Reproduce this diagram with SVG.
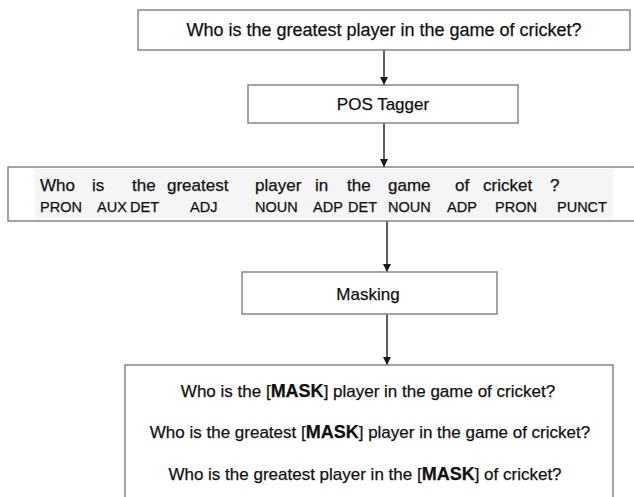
<svg xmlns="http://www.w3.org/2000/svg" width="634" height="497" viewBox="0 0 634 497">
<style>
.box{fill:#ffffff;stroke:#858585;stroke-width:1.5}
.t{font-family:"Liberation Sans",Arial,sans-serif;fill:#111111;stroke:#111111;stroke-width:0.25}
.c{text-anchor:middle}
.w{font-size:17px}
.tag{font-size:14.5px}
.m{font-weight:bold;font-size:18px}
.edge{stroke:#2a2a2a;stroke-width:1.5;fill:none;marker-end:url(#ah)}
</style>
<defs>
<marker id="ah" viewBox="0 0 10 10" refX="10" refY="5" markerWidth="8" markerHeight="8" markerUnits="userSpaceOnUse" orient="auto">
<path d="M0,0 L10,5 L0,10 z" fill="#1a1a1a"/>
</marker>
</defs>
<rect width="634" height="497" fill="#ffffff"/>
<g id="connectors">
<line class="edge" x1="384" y1="50" x2="384" y2="85"/>
<line class="edge" x1="384" y1="123" x2="384" y2="167"/>
<line class="edge" x1="387" y1="221" x2="387" y2="272"/>
<line class="edge" x1="387" y1="314" x2="387" y2="365"/>
</g>
<g id="question">
<rect class="box" x="138" y="10" width="492" height="40"/>
<text class="t c" x="384" y="36" font-size="18">Who is the greatest player in the game of cricket?</text>
</g>
<g id="pos-tagger">
<rect class="box" x="248" y="85" width="270" height="38"/>
<text class="t c" x="383" y="110" font-size="17">POS Tagger</text>
</g>
<g id="tagged">
<rect class="box" x="8" y="167" width="640" height="54"/>
<rect x="35" y="169" width="578" height="50" fill="#f5f5f5"/>
<text class="t w" y="191"><tspan x="40">Who</tspan><tspan x="92">is</tspan><tspan x="132">the</tspan><tspan x="167">greatest</tspan><tspan x="255">player</tspan><tspan x="315">in</tspan><tspan x="347">the</tspan><tspan x="388">game</tspan><tspan x="455">of</tspan><tspan x="483">cricket</tspan><tspan x="550">?</tspan></text>
<text class="t tag" y="211.5"><tspan x="97">AUX</tspan><tspan x="40">PRON</tspan><tspan x="130">DET</tspan><tspan x="190">ADJ</tspan><tspan x="255">NOUN</tspan><tspan x="313">ADP</tspan><tspan x="348">DET</tspan><tspan x="388">NOUN</tspan><tspan x="447">ADP</tspan><tspan x="495">PRON</tspan><tspan x="557">PUNCT</tspan></text>
</g>
<g id="masking">
<rect class="box" x="242" y="272" width="255" height="42"/>
<text class="t c" x="368" y="300" font-size="17">Masking</text>
</g>
<g id="masked">
<rect class="box" x="125" y="365" width="488" height="140"/>
<text class="t c w" x="368" y="397">Who is the [<tspan class="m">MASK</tspan>] player in the game of cricket?</text>
<text class="t c w" x="370" y="438">Who is the greatest [<tspan class="m">MASK</tspan>] player in the game of cricket?</text>
<text class="t c w" x="365" y="480">Who is the greatest player in the [<tspan class="m">MASK</tspan>] of cricket?</text>
</g>
</svg>
